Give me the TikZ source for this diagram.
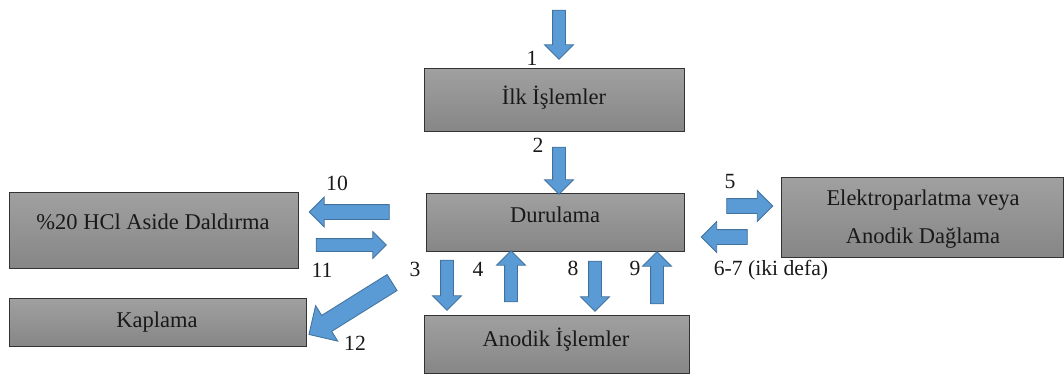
\documentclass[tikz,border=0pt]{standalone}
\usepackage{fontspec}
\setmainfont{Liberation Serif}
\usetikzlibrary{shapes.arrows}

\newdimen\pxu
\pxu=0.025cm

\definecolor{boxtop}{RGB}{160,160,160}
\definecolor{boxbottom}{RGB}{134,134,134}
\definecolor{arrowblue}{RGB}{91,155,213}
\definecolor{arrowedge}{RGB}{65,113,156}

\tikzset{
  box/.style={draw=black!80, line width=0.9pt, top color=boxtop, bottom color=boxbottom,
    anchor=north west, inner sep=0pt},
  boxtext/.style={font=\fontsize{16}{27}\selectfont, text=black!90, align=center},
  num/.style={font=\fontsize{15.4}{18}\selectfont, text=black!90},
  barrow/.style={single arrow, draw=arrowedge, fill=arrowblue, line width=0.6pt,
    minimum width=0pt, inner xsep=0pt, inner ysep=6\pxu, single arrow head extend=8\pxu}
}

\begin{document}
\begin{tikzpicture}[x=0.025cm, y=-0.025cm]
\useasboundingbox (0,0) rectangle (1064,377);

% Boxes
\node[box, minimum width=260\pxu, minimum height=63\pxu] (ilk) at (424,68) {};
\node[box, minimum width=258\pxu, minimum height=58\pxu] (dur) at (426,193) {};
\node[box, minimum width=265\pxu, minimum height=58\pxu] (anod) at (424,315) {};
\node[box, minimum width=289\pxu, minimum height=76\pxu] (hcl) at (9,192) {};
\node[box, minimum width=297\pxu, minimum height=48\pxu] (kap) at (9,298) {};
\node[box, minimum width=282\pxu, minimum height=80\pxu] (elek) at (781,177) {};

% Box texts
\node[boxtext] (ilktxt) at (554,98) {İlk İşlemler};
\node[boxtext] (durtxt) at (555,215) {Durulama};
\node[boxtext] (anodtxt) at (556,340) {Anodik İşlemler};
\node[boxtext] (hcltxt) at (153,222) {\%20 HCl Aside Daldırma};
\node[boxtext] (kaptxt) at (157,322) {Kaplama};
\node[boxtext] (elektxt) at (923,219) {Elektroparlatma veya\\Anodik Dağlama};

% Block arrows
\node[barrow, rotate=-90, minimum height=49\pxu] (a1) at (559,31.5) {};
\node[barrow, rotate=-90, minimum height=47\pxu] (a2) at (559,167.5) {};
\node[barrow, rotate=-90, minimum height=50\pxu] (a3) at (447,282) {};
\node[barrow, rotate=90, minimum height=51\pxu] (a4) at (511,279.5) {};
\node[barrow, rotate=-90, minimum height=50\pxu] (a8) at (595,283) {};
\node[barrow, rotate=90, minimum height=52\pxu] (a9) at (657,281) {};
\node[barrow, rotate=180, minimum height=80\pxu, inner ysep=7\pxu, single arrow head extend=7.5\pxu] (a10) at (353,212) {};
\node[barrow, minimum height=70\pxu, single arrow head extend=7\pxu] (a11) at (348,245) {};
\node[barrow, minimum height=46\pxu, inner ysep=7\pxu] (a5) at (746,206) {};
\node[barrow, rotate=180, minimum height=46\pxu, inner ysep=7\pxu] (a67) at (728,237) {};
\node[barrow, rotate=212, minimum height=98\pxu, inner ysep=9\pxu, single arrow head extend=11.5\pxu] (a12) at (354.5,306) {};

% Labels
\node[num] (n1) at (532,58) {1};
\node[num] (n2) at (538,145) {2};
\node[num] (n3) at (415,269) {3};
\node[num] (n4) at (478,269) {4};
\node[num] (n8) at (573,268) {8};
\node[num] (n9) at (635,268) {9};
\node[num] (n10) at (337,183) {10};
\node[num] (n11) at (322,270) {11};
\node[num] (n12) at (355,343) {12};
\node[num] (n5) at (730,182) {5};
\node[num] (n67) at (771,270) {6-7 (iki defa)};

\end{tikzpicture}
\end{document}
